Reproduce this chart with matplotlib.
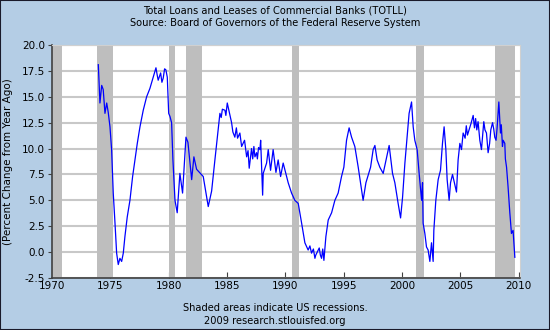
import matplotlib
matplotlib.use("Agg")
import matplotlib.pyplot as plt
from matplotlib.patches import Rectangle

# TOTLL, percent change from year ago
years = [1973.97, 1974.11, 1974.26, 1974.39, 1974.54, 1974.69, 1974.82, 1974.97,
         1975.11, 1975.25, 1975.40, 1975.54, 1975.68, 1975.82, 1975.97, 1976.11,
         1976.25, 1976.45, 1976.68, 1976.91, 1977.11, 1977.31, 1977.54, 1977.82,
         1978.11, 1978.39, 1978.68, 1978.91, 1979.00, 1979.10, 1979.31, 1979.42,
         1979.53, 1979.65, 1979.76, 1979.88, 1980.00, 1980.11, 1980.25, 1980.36,
         1980.54, 1980.73, 1980.96, 1981.19, 1981.48, 1981.65, 1981.97, 1982.16,
         1982.39, 1982.96, 1983.39, 1983.68, 1983.96, 1984.39, 1984.50, 1984.60,
         1984.82, 1984.90, 1985.02, 1985.39, 1985.50, 1985.67, 1985.80, 1985.90,
         1986.10, 1986.25, 1986.50, 1986.68, 1986.80, 1986.90, 1987.10, 1987.20,
         1987.30, 1987.39, 1987.53, 1987.60, 1987.70, 1987.82, 1987.88, 1988.05,
         1988.10, 1988.39, 1988.53, 1988.73, 1988.95, 1989.19, 1989.38, 1989.59,
         1989.81, 1990.04, 1990.24, 1990.53, 1990.81, 1991.10, 1991.39, 1991.67,
         1991.95, 1992.10, 1992.24, 1992.40, 1992.53, 1992.60, 1992.81, 1992.90,
         1993.00, 1993.10, 1993.20, 1993.30, 1993.47, 1993.67, 1993.96, 1994.24,
         1994.52, 1994.81, 1995.01, 1995.24, 1995.46, 1995.67, 1995.95, 1996.24,
         1996.53, 1996.66, 1996.90, 1997.30, 1997.52, 1997.67, 1997.86, 1998.09,
         1998.38, 1998.89, 1999.18, 1999.38, 1999.66, 1999.87, 2000.04, 2000.24,
         2000.43, 2000.60, 2000.81, 2000.95, 2001.09, 2001.29, 2001.46, 2001.67,
         2001.75, 2001.80, 2001.95, 2002.09, 2002.23, 2002.38, 2002.52, 2002.66,
         2002.72, 2002.89, 2003.09, 2003.29, 2003.46, 2003.60, 2003.75, 2003.86,
         2004.03, 2004.15, 2004.32, 2004.66, 2004.80, 2004.95, 2005.09, 2005.23,
         2005.40, 2005.50, 2005.60, 2005.74, 2005.90, 2006.09, 2006.20, 2006.30,
         2006.40, 2006.51, 2006.66, 2006.80, 2007.00, 2007.10, 2007.23, 2007.37,
         2007.50, 2007.60, 2007.75, 2007.85, 2007.94, 2008.05, 2008.14, 2008.29,
         2008.43, 2008.50, 2008.60, 2008.66, 2008.80, 2008.85, 2008.95, 2009.08,
         2009.23, 2009.37, 2009.51, 2009.66]
pct = [18.1, 14.4, 16.1, 15.7, 13.4, 14.4, 13.5, 12.1,
       9.9, 5.7, 2.8, -0.1, -1.2, -0.6, -0.9, -0.1,
       1.5, 3.4, 5.0, 7.3, 8.9, 10.5, 12.1, 13.7,
       15.0, 15.8, 16.9, 17.8, 17.2, 16.6, 17.3, 16.4,
       16.8, 17.7, 17.6, 16.9, 13.4, 13.1, 12.5, 9.0,
       5.0, 3.8, 7.6, 5.7, 11.1, 10.6, 7.0, 9.2,
       8.0, 7.3, 4.4, 5.9, 8.9, 13.4, 13.0, 13.8,
       13.7, 13.2, 14.4, 12.5, 11.6, 11.1, 12.0, 11.0,
       11.5, 10.2, 10.8, 9.2, 9.8, 8.1, 10.0, 9.0,
       10.2, 9.2, 9.6, 9.0, 10.1, 9.9, 10.8, 5.5,
       7.6, 8.6, 9.9, 7.9, 9.9, 7.7, 8.9, 7.3,
       8.6, 7.6, 6.7, 5.7, 5.0, 4.7, 2.8, 0.9,
       0.2, 0.6, -0.1, 0.3, -0.6, -0.3, 0.2, 0.4,
       -0.3, -0.6, 0.3, -0.8, 1.5, 3.1, 3.8, 5.0,
       5.7, 7.3, 8.2, 10.8, 12.0, 11.1, 10.2, 8.2,
       6.0, 5.0, 6.7, 8.2, 9.9, 10.3, 8.9, 8.2,
       7.6, 10.3, 7.6, 6.7, 4.7, 3.3, 5.3, 8.6,
       11.1, 13.4, 14.5, 12.1, 10.8, 9.9, 7.6, 5.0,
       6.7, 2.8, 1.8, 0.5, 0.2, -0.9, 0.9, -0.9,
       2.1, 5.0, 7.0, 7.9, 10.5, 12.1, 9.9, 7.0,
       5.0, 6.7, 7.5, 5.8, 8.9, 10.5, 9.9, 11.5,
       11.0, 12.2, 11.3, 11.8, 12.4, 13.2, 12.0, 12.9,
       11.8, 12.6, 10.8, 9.9, 12.6, 11.8, 11.5, 9.6,
       10.5, 11.8, 12.5, 11.9, 11.1, 10.8, 12.0, 14.5,
       11.5, 12.3, 10.2, 10.8, 10.5, 9.0, 8.2, 6.3,
       3.8, 1.8, 2.1, -0.5]

# US recessions (start, end)
rec_start = [1969.92, 1973.85, 1980.0, 1981.5, 1990.55, 2001.2, 2007.92]
rec_end = [1970.87, 1975.2, 1980.55, 1982.87, 1991.2, 2001.9, 2009.7]

pts = sorted(zip(years, pct))
xs = [p[0] for p in pts]
ys = [p[1] for p in pts]

bg = '#b4cde5'
fig = plt.figure(figsize=(5.5, 3.3), dpi=100, facecolor=bg)
fig.patches.append(Rectangle((0, 0), 1, 1, transform=fig.transFigure,
                             fill=False, edgecolor='#1a1a2a', linewidth=1.5))
ax = fig.add_axes([0.0945, 0.1576, 0.8509, 0.706])
ax.set_facecolor('white')

for s, e in zip(rec_start, rec_end):
    ax.axvspan(s, e, color='#bebebe', lw=0, zorder=1)

ax.plot(xs, ys, color='#0000ff', lw=0.9, zorder=3)

ax.set_xlim(1970, 2010.1)
ax.set_ylim(-2.5, 20)
ax.set_xticks(range(1970, 2011, 5))
yt = [-2.5 + 2.5 * i for i in range(10)]
ax.set_yticks(yt)
ax.set_yticklabels(['%.1f' % v for v in yt])
ax.yaxis.grid(True, color='#c8c8c8', lw=1.5, zorder=0)
ax.set_axisbelow(True)

for side in ['top', 'right']:
    ax.spines[side].set_color('#d0d0d0')
for side in ['left', 'bottom']:
    ax.spines[side].set_color('#404040')
    ax.spines[side].set_linewidth(1.2)
ax.tick_params(axis='y', direction='out', length=3, labelsize=7.5, pad=2, color='#404040')
ax.tick_params(axis='x', direction='in', length=4, labelsize=7.5, pad=2, color='#404040')

ax.set_ylabel('(Percent Change from Year Ago)', fontsize=7.5, labelpad=6)

fig.text(0.5, 0.968, 'Total Loans and Leases of Commercial Banks (TOTLL)',
         ha='center', va='center', fontsize=7.1)
fig.text(0.5, 0.93, 'Source: Board of Governors of the Federal Reserve System',
         ha='center', va='center', fontsize=7.1)
fig.text(0.5, 0.066, 'Shaded areas indicate US recessions.',
         ha='center', va='center', fontsize=7.1)
fig.text(0.5, 0.027, '2009 research.stlouisfed.org',
         ha='center', va='center', fontsize=7.1)

fig.savefig('out.png', dpi=100, facecolor=bg)
